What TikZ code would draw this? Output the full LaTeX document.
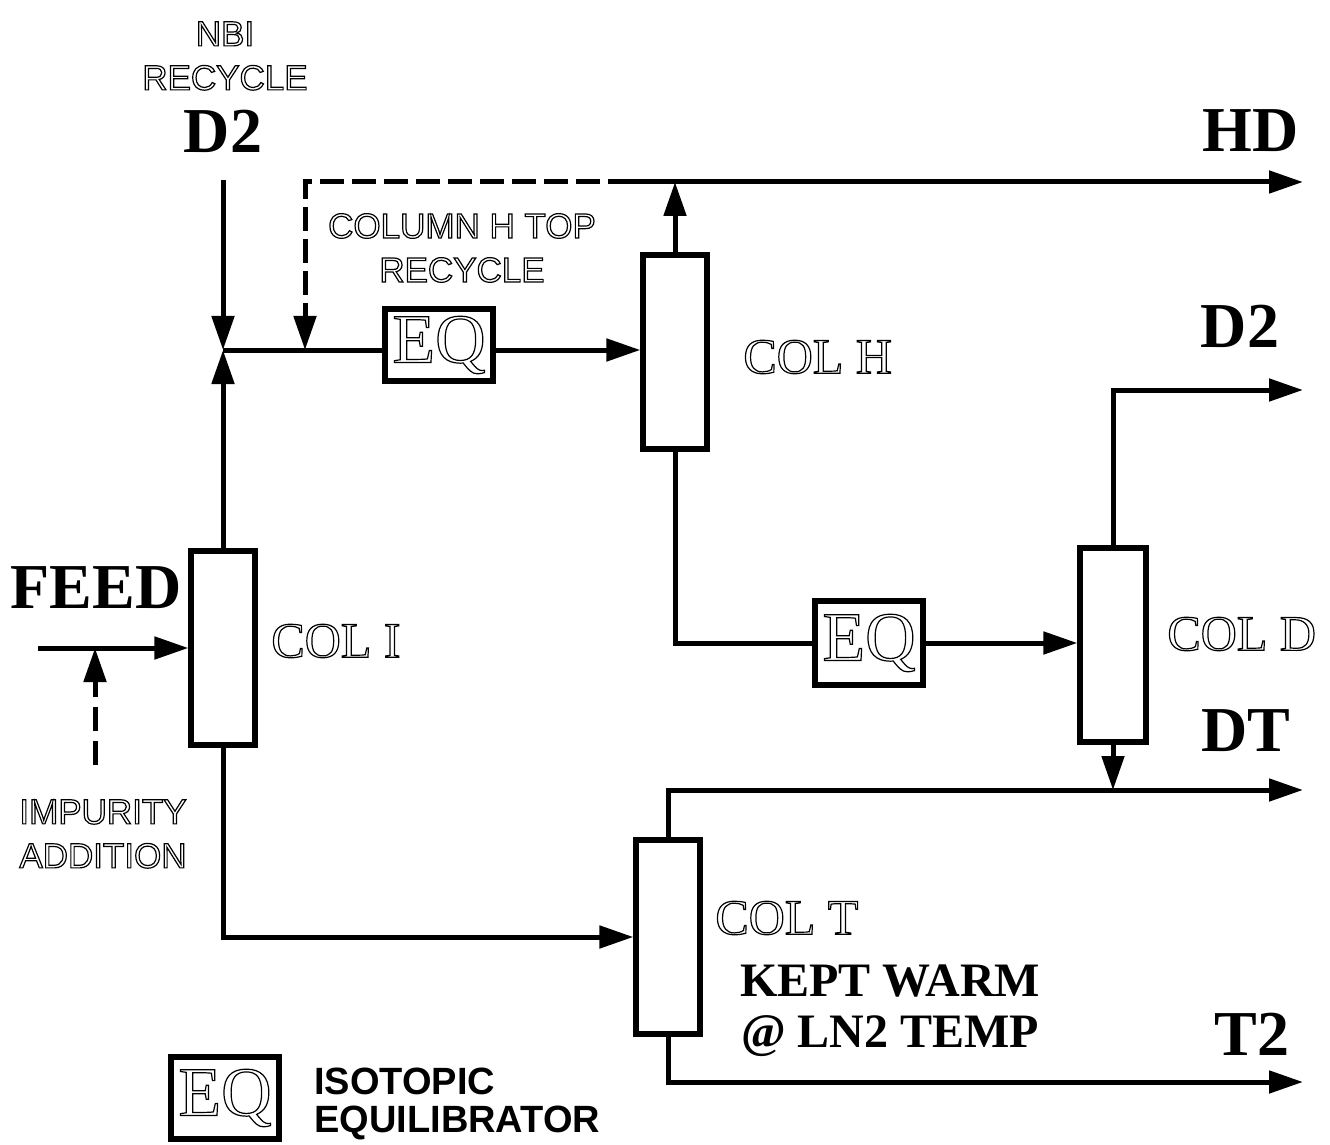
\documentclass[tikz,border=0pt]{standalone}
\usepackage{fontspec}
\setmainfont{Liberation Serif}
\setsansfont{Liberation Sans}
\usetikzlibrary{arrows.meta}
\newcommand{\outl}[1]{\special{pdf:literal direct 1 Tr 0.6 w}#1\special{pdf:literal direct 0 Tr}}
\begin{document}
\begin{tikzpicture}[x=0.5pt,y=-0.5pt,
  flow/.style={line width=2.5pt},
  arr/.style={flow,-{Triangle[length=17pt,width=11pt]}},
  dsh/.style={dash pattern=on 12pt off 4pt},
  colbox/.style={draw,line width=2.6pt,minimum width=32pt,minimum height=97pt,inner sep=0pt},
  eqbox/.style={draw,line width=2.6pt,minimum width=54pt,minimum height=36pt,inner sep=0pt,font=\fontsize{35}{35}\selectfont},
  big/.style={inner sep=0pt,font=\fontsize{32}{32}\selectfont\bfseries},
  colname/.style={inner sep=0pt,anchor=west,font=\fontsize{25}{25}\selectfont},
  sanslab/.style={inner sep=0pt,align=center,font=\fontsize{17.5}{22}\selectfont\sffamily},
  warm/.style={inner sep=0pt,align=center,font=\fontsize{24}{24}\selectfont\bfseries},
  leg/.style={inner sep=0pt,align=left,anchor=west,font=\fontsize{19}{19}\selectfont\sffamily\bfseries}
]
\useasboundingbox (0,0) rectangle (1330,1145);

% columns and equilibrators
\node[colbox] (colI) at (223,648) {};
\node[colbox] (colH) at (675,352) {};
\node[colbox,minimum width=33pt] (colD) at (1113,645) {};
\node[colbox] (colT) at (668,937) {};
\node[eqbox] (eq1) at (439,345) {\outl{EQ}};
\node[eqbox,minimum height=42pt] (eq2) at (869,643) {\outl{EQ}};
\node[eqbox,minimum height=41pt] (eqL) at (225,1098) {\outl{EQ}};

% coordinates
\coordinate (J) at (223,350);
\coordinate (d2in) at (223,180);
\coordinate (R) at (305,350);
\coordinate (RC) at (305,182);
\coordinate (HDj) at (675,182);
\coordinate (HDend) at (1303,182);
\coordinate (D2end) at (1303,390);
\coordinate (DTend) at (1303,790);
\coordinate (T2end) at (1303,1082);
\coordinate (feedin) at (38,648);
\coordinate (impin) at (95,765);
\coordinate (impj) at (95,648);
\coordinate (sol) at (632,182);

% connectors
\draw[arr] (d2in) -- (J);
\draw[arr] (colI.north) -- (J);
\draw[flow] (J) -- (eq1.west |- J);
\draw[arr,dsh] (sol) -- (RC) -- (R);
\draw[arr] (eq1.east |- J) -- (colH.west |- J);
\draw[arr] (colH.north) -- (HDj);
\draw[arr] (sol) -- (HDend);
\draw[flow] (colH.south) |- (eq2.west);
\draw[arr] (eq2.east) -- (colD.west |- eq2.east);
\draw[arr] (colD.north) |- (D2end);
\draw[arr] (colD.south) -- (colD.south |- DTend);
\draw[arr] (colT.north) |- (DTend);
\draw[arr] (colT.south) |- (T2end);
\draw[arr] (colI.south) |- (colT.west);
\draw[arr] (feedin) -- (colI.west);
\draw[arr,dash pattern=on 12pt off 5pt] (impin) -- (impj);

% labels
\node[sanslab] (nbi) at (225,56) {\outl{NBI}\\\outl{RECYCLE}};
\node[big] (d2top) at (223,131) {D2};
\node[sanslab] (ctr) at (462,248) {\outl{COLUMN H TOP}\\\outl{RECYCLE}};
\node[colname] (lH) at (743,357) {\outl{COL H}};
\node[colname] (lI) at (271,641) {\outl{COL I}};
\node[colname] (lD) at (1167,634) {\outl{COL D}};
\node[colname] (lT) at (715,918) {\outl{COL T}};
\node[big,anchor=east] (hd) at (1299,131) {HD};
\node[big] (d2r) at (1240,326) {D2};
\node[big] (dt) at (1246,731) {DT};
\node[big] (t2) at (1252,1034) {T2};
\node[big] (feed) at (96,588) {FEED};
\node[sanslab] (imp) at (103,834) {\outl{IMPURITY}\\\outl{ADDITION}};
\node[warm] (kw) at (890,1011) {KEPT WARM\\[1.5pt]@ LN2 TEMP};
\node[leg] (legtxt) at (314,1104) {ISOTOPIC\\EQUILIBRATOR};
\end{tikzpicture}
\end{document}
